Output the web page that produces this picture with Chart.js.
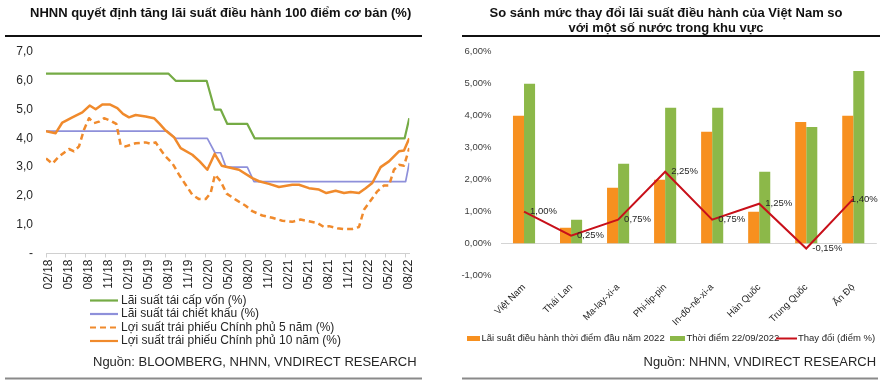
<!DOCTYPE html>
<html>
<head>
<meta charset="utf-8">
<script src="https://cdn.jsdelivr.net/npm/chart.js@4"></script>
<style>
  html, body { margin: 0; padding: 0; background: #ffffff; }
  body { width: 883px; height: 381px; overflow: hidden; position: relative; }
  #leftChart { position: absolute; left: 0; top: 0; }
  #rightChart { position: absolute; left: 440px; top: 0; }
</style>
</head>
<body>
<canvas id="leftChart" width="440" height="381"></canvas>
<canvas id="rightChart" width="443" height="381"></canvas>
<script>
// ---------------- LEFT CHART DATA (x = months since 02/2018) ----------------
const monthTickLabels = ['02/18','05/18','08/18','11/18','02/19','05/19','08/19','11/19','02/20','05/20','08/20','11/20','02/21','05/21','08/21','11/21','02/22','05/22','08/22'];

const refiMonths = [0, 18.35, 19.45, 24.1, 25.3, 26.2, 27.2, 30.2, 31.3, 53.8, 54.5];
const refiRate   = [6.25, 6.25, 6.0, 6.0, 5.0, 5.0, 4.5, 4.5, 4.0, 4.0, 4.7];

const discMonths = [0, 18.2, 19.45, 24.2, 25.35, 26.2, 27.0, 30.2, 31.2, 53.95, 54.5];
const discRate   = [4.25, 4.25, 4.0, 4.0, 3.5, 3.5, 3.0, 3.0, 2.5, 2.5, 3.15];

const bond5Months = [0,0.95,1.95,3.45,4.2,4.95,5.7,6.45,7.2,7.95,8.7,9.7,10.55,11.2,11.95,13.45,14.95,15.7,16.45,17.2,17.95,18.95,19.95,20.95,21.95,22.95,23.95,24.7,25.35,26.2,27.1,28.45,29.95,30.95,32.45,33.95,35.45,36.95,38.2,39.45,40.7,41.7,42.45,43.7,44.7,45.95,46.95,47.7,48.45,49.7,50.7,51.45,52.2,52.95,53.7,54.5];
const bond5Yield  = [3.3,3.12,3.37,3.63,3.55,3.72,4.3,4.7,4.53,4.58,4.7,4.61,4.5,3.78,3.72,3.83,3.86,3.81,3.86,3.6,3.37,3.14,2.74,2.39,2.04,1.89,1.89,2.1,2.74,2.51,2.08,1.87,1.66,1.47,1.32,1.24,1.14,1.1,1.18,1.12,1.06,0.92,0.95,0.88,0.85,0.85,0.92,1.52,1.76,2.16,2.36,2.36,2.91,3.08,3.05,3.66];

const bond10Months = [0,1.45,2.45,3.95,5.45,6.55,7.45,8.45,9.55,10.7,11.55,12.45,13.45,14.95,16.2,17.05,17.95,19.2,20.2,21.95,23.05,24.2,25.3,26.35,28.95,30.95,31.95,33.45,34.95,36.95,37.95,39.45,40.95,42.05,43.45,44.7,45.7,46.95,47.95,48.95,50.2,51.45,52.95,53.7,54.5];
const bond10Yield  = [4.25,4.18,4.55,4.73,4.9,5.14,5.01,5.18,5.18,5.05,4.85,4.73,4.81,4.76,4.7,4.5,4.27,4.04,3.66,3.43,3.2,2.91,3.46,3.05,2.91,2.62,2.51,2.42,2.31,2.39,2.39,2.27,2.22,2.1,2.18,2.1,2.14,2.1,2.27,2.45,3.0,3.2,3.55,3.58,4.0];

// ---------------- RIGHT CHART DATA ----------------
const countries = ['Việt Nam','Thái Lan','Ma-lay-xi-a','Phi-lip-pin','In-đô-nê-xi-a','Hàn Quốc','Trung Quốc','Ấn Độ'];
const rateStart2022 = [4.0, 0.5, 1.75, 2.0, 3.5, 1.0, 3.8, 4.0];
const rateSep2022   = [5.0, 0.75, 2.5, 4.25, 4.25, 2.25, 3.65, 5.4];
const rateChange    = [1.0, 0.25, 0.75, 2.25, 0.75, 1.25, -0.15, 1.4];

// ---------------- helpers ----------------
const FF = '"Liberation Sans", Arial, sans-serif';
Chart.defaults.font.family = FF;
Chart.defaults.color = '#262626';
const pts = (xs, ys) => xs.map((x, i) => ({ x: x, y: ys[i] }));
const comma = (v, d) => v.toFixed(d).replace('.', ',');

function drawRule(ctx, x1, x2, y, color, w) {
  ctx.save();
  ctx.strokeStyle = color; ctx.lineWidth = w;
  ctx.beginPath(); ctx.moveTo(x1, y); ctx.lineTo(x2, y); ctx.stroke();
  ctx.restore();
}
function drawText(ctx, text, x, y, font, color, align) {
  ctx.save();
  ctx.font = font; ctx.fillStyle = color; ctx.textAlign = align || 'left'; ctx.textBaseline = 'middle';
  ctx.fillText(text, x, y);
  ctx.restore();
}

// ---------------- LEFT CHART ----------------
const C_REFI = '#75ab45', C_DISC = '#8e90da', C_BOND = '#f08a2c';
const leftDatasets = [
  { label: 'Lãi suất tái cấp vốn (%)', data: pts(refiMonths, refiRate), borderColor: C_REFI, borderWidth: 2.2, order: 3 },
  { label: 'Lãi suất tái chiết khấu (%)', data: pts(discMonths, discRate), borderColor: C_DISC, borderWidth: 1.7, order: 2 },
  { label: 'Lợi suất trái phiếu Chính phủ 5 năm (%)', data: pts(bond5Months, bond5Yield), borderColor: C_BOND, borderWidth: 2.5, borderDash: [6, 4], order: 1 },
  { label: 'Lợi suất trái phiếu Chính phủ 10 năm (%)', data: pts(bond10Months, bond10Yield), borderColor: C_BOND, borderWidth: 2.5, order: 0 }
];
leftDatasets.forEach(d => { d.pointRadius = 0; d.tension = 0; d.fill = false; d.borderJoinStyle = 'round'; });

const leftDecor = {
  id: 'leftDecor',
  afterDraw(chart) {
    const ctx = chart.ctx;
    drawText(ctx, 'NHNN quyết định tăng lãi suất điều hành 100 điểm cơ bản (%)', 30, 13, 'bold 13px ' + FF, '#111111', 'left');
    drawRule(ctx, 5, 422, 36, '#111111', 2);
    // legend (vertical list)
    const rowsY = [300.5, 314, 327.5, 341];
    chart.data.datasets.forEach((ds, i) => {
      const y = rowsY[i];
      ctx.save();
      ctx.strokeStyle = ds.borderColor; ctx.lineWidth = 2.2;
      ctx.setLineDash(ds.borderDash || []);
      ctx.beginPath(); ctx.moveTo(90, y); ctx.lineTo(118, y); ctx.stroke();
      ctx.restore();
      drawText(ctx, ds.label, 121, y, '12px ' + FF, '#262626', 'left');
    });
    drawText(ctx, 'Nguồn: BLOOMBERG, NHNN, VNDIRECT RESEARCH', 93, 362, '13px ' + FF, '#262626', 'left');
    drawRule(ctx, 5, 422, 378.5, '#8a8a8a', 2);
  }
};

new Chart(document.getElementById('leftChart'), {
  type: 'line',
  data: { datasets: leftDatasets },
  options: {
    responsive: false, animation: false, devicePixelRatio: 1, events: [],
    layout: { padding: { top: 52, right: 30.7, left: 0, bottom: 0 } },
    plugins: { legend: { display: false }, tooltip: { enabled: false }, title: { display: false } },
    scales: {
      x: {
        type: 'linear', min: 0, max: 54.5,
        afterFit: (s) => { s.height = 381 - 253.5; },
        grid: { display: true, drawOnChartArea: false, drawTicks: true, tickLength: 4, color: '#d0d0d0' },
        border: { display: true, color: '#d0d0d0', width: 1 },
        ticks: {
          stepSize: 3, includeBounds: false, autoSkip: false, minRotation: 90, maxRotation: 90,
          padding: 2, labelOffset: 3, color: '#262626', font: { size: 12 },
          callback: (v) => monthTickLabels[Math.round(v / 3)] || ''
        }
      },
      y: {
        min: 0, max: 7,
        afterFit: (s) => { s.width = 46; },
        grid: { display: false, drawTicks: false },
        border: { display: false },
        ticks: { stepSize: 1, padding: 13, color: '#262626', font: { size: 12 },
          callback: (v) => v === 0 ? '-' : comma(v, 1) }
      }
    }
  },
  plugins: [leftDecor]
});

// ---------------- RIGHT CHART ----------------
const C_START = '#f7901f', C_SEP = '#8cb849', C_CHG = '#c8101a';

const rightDecor = {
  id: 'rightDecor',
  afterDatasetsDraw(chart) {
    // data labels for change line
    const ctx = chart.ctx;
    const meta = chart.getDatasetMeta(0);
    const area = chart.chartArea;
    ctx.save();
    ctx.font = '9.5px ' + FF; ctx.fillStyle = '#262626'; ctx.textBaseline = 'middle'; ctx.textAlign = 'left';
    meta.data.forEach((pt, i) => {
      const txt = comma(rateChange[i], 2) + '%';
      const w = ctx.measureText(txt).width;
      const x = Math.min(pt.x + 6, area.right - w + 1);
      ctx.fillText(txt, x, pt.y);
    });
    ctx.restore();
  },
  afterDraw(chart) {
    const ctx = chart.ctx;
    const tf = 'bold 13px ' + FF;
    drawText(ctx, 'So sánh mức thay đổi lãi suất điều hành của Việt Nam so', 226, 13, tf, '#111111', 'center');
    drawText(ctx, 'với một số nước trong khu vực', 226, 28.5, tf, '#111111', 'center');
    drawRule(ctx, 22, 440, 36, '#111111', 2);
    // legend
    const ly = 338.5, lf = '9.5px ' + FF;
    ctx.save(); ctx.fillStyle = C_START; ctx.fillRect(27, ly - 2.5, 13, 5); ctx.restore();
    drawText(ctx, 'Lãi suất điều hành thời điểm đầu năm 2022', 41.5, ly, lf, '#262626', 'left');
    ctx.save(); ctx.fillStyle = C_SEP; ctx.fillRect(230, ly - 2.5, 15, 5); ctx.restore();
    drawText(ctx, 'Thời điểm 22/09/2022', 246.5, ly, lf, '#262626', 'left');
    drawRule(ctx, 336, 357, ly, C_CHG, 2);
    drawText(ctx, 'Thay đổi (điểm %)', 358, ly, lf, '#262626', 'left');
    drawText(ctx, 'Nguồn: NHNN, VNDIRECT RESEARCH', 203.5, 362, '13px ' + FF, '#262626', 'left');
    drawRule(ctx, 22, 438, 378.5, '#8a8a8a', 2);
  }
};

new Chart(document.getElementById('rightChart'), {
  type: 'bar',
  data: {
    labels: countries,
    datasets: [
      { type: 'line', label: 'Thay đổi (điểm %)', data: rateChange, borderColor: C_CHG, backgroundColor: C_CHG,
        borderWidth: 2, pointRadius: 0, tension: 0, order: 0 },
      { label: 'Lãi suất điều hành thời điểm đầu năm 2022', data: rateStart2022, backgroundColor: C_START,
        categoryPercentage: 0.47, barPercentage: 1.0, order: 1 },
      { label: 'Thời điểm 22/09/2022', data: rateSep2022, backgroundColor: C_SEP,
        categoryPercentage: 0.47, barPercentage: 1.0, order: 2 }
    ]
  },
  options: {
    responsive: false, animation: false, devicePixelRatio: 1, events: [],
    layout: { padding: { top: 51.7, right: 6.2, left: 0, bottom: 0 } },
    plugins: { legend: { display: false }, tooltip: { enabled: false }, title: { display: false } },
    scales: {
      x: {
        afterFit: (s) => { s.height = 381 - 275.7; },
        grid: { display: false, drawTicks: false },
        border: { display: false },
        ticks: { autoSkip: false, minRotation: 45, maxRotation: 45, padding: 6, color: '#262626', font: { size: 9.5 } }
      },
      y: {
        min: -1, max: 6,
        afterFit: (s) => { s.width = 60.5; },
        grid: { drawTicks: false, color: (c) => (c.tick && c.tick.value === 0) ? '#d4d4d4' : 'rgba(0,0,0,0)', lineWidth: 1 },
        border: { display: false },
        ticks: { stepSize: 1, padding: 9, color: '#404040', font: { size: 9.5 },
          callback: (v) => comma(v, 2) + '%' }
      }
    }
  },
  plugins: [rightDecor]
});
</script>
</body>
</html>
